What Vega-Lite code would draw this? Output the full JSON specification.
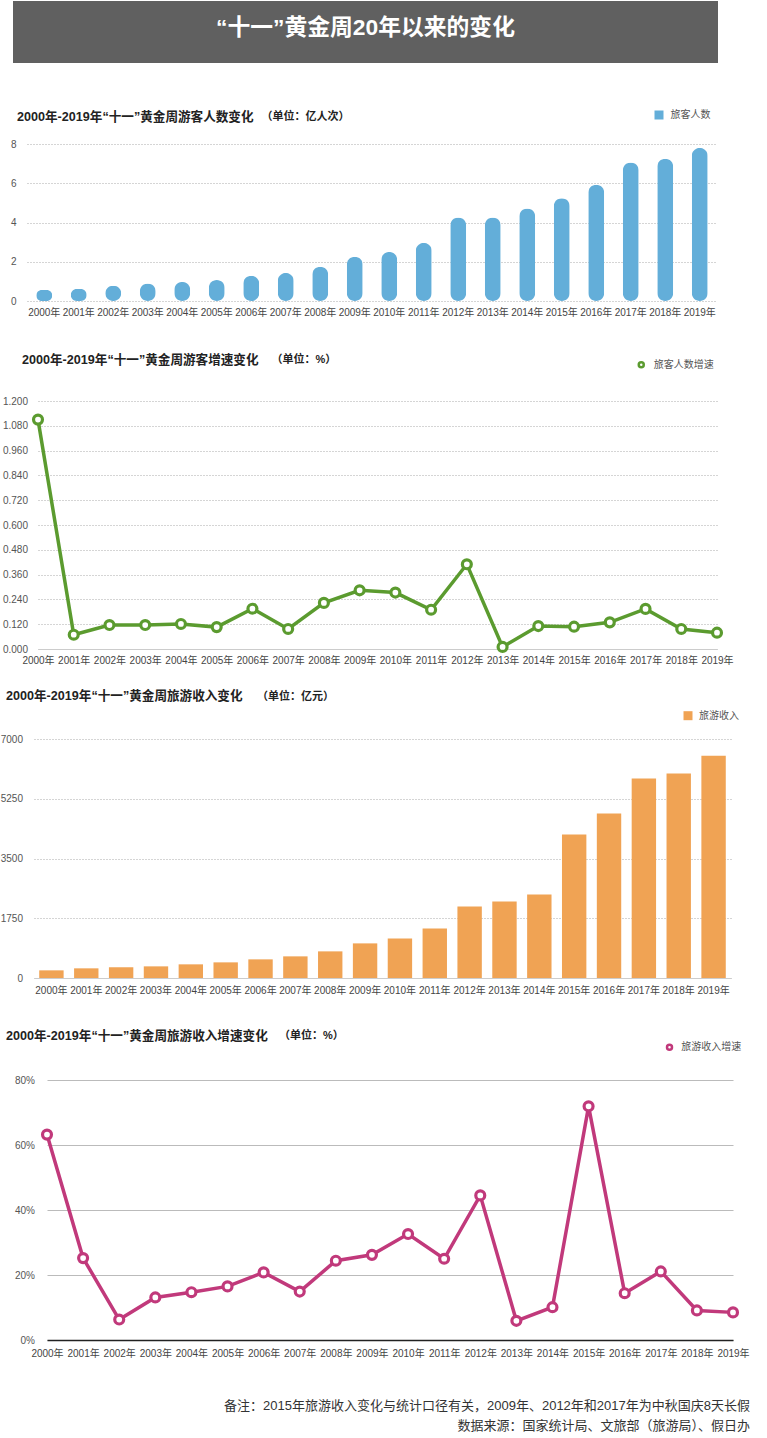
{
  "$schema": "https://vega.github.io/schema/vega-lite/v6.json",
  "background": "white",
  "padding": {"left": 0, "top": 1, "right": 0, "bottom": 0},
  "config": {
    "font": "'Liberation Sans', 'Noto Sans CJK SC', sans-serif",
    "view": {"stroke": null},
    "legend": {"padding": 0, "labelFontSize": 10, "labelColor": "#555", "labelOffset": 6}
  },
  "datasets": {
    "tourists": [
      {"year": "2000年", "value": 0.56}, {"year": "2001年", "value": 0.61}, {"year": "2002年", "value": 0.78},
      {"year": "2003年", "value": 0.89}, {"year": "2004年", "value": 0.97}, {"year": "2005年", "value": 1.07},
      {"year": "2006年", "value": 1.29}, {"year": "2007年", "value": 1.43}, {"year": "2008年", "value": 1.75},
      {"year": "2009年", "value": 2.26}, {"year": "2010年", "value": 2.50}, {"year": "2011年", "value": 2.96},
      {"year": "2012年", "value": 4.26}, {"year": "2013年", "value": 4.26}, {"year": "2014年", "value": 4.71},
      {"year": "2015年", "value": 5.23}, {"year": "2016年", "value": 5.92}, {"year": "2017年", "value": 7.06},
      {"year": "2018年", "value": 7.25}, {"year": "2019年", "value": 7.80}
    ],
    "touristGrowth": [
      {"year": "2000年", "value": 1.110}, {"year": "2001年", "value": 0.069}, {"year": "2002年", "value": 0.116},
      {"year": "2003年", "value": 0.116}, {"year": "2004年", "value": 0.121}, {"year": "2005年", "value": 0.106},
      {"year": "2006年", "value": 0.195}, {"year": "2007年", "value": 0.097}, {"year": "2008年", "value": 0.223},
      {"year": "2009年", "value": 0.284}, {"year": "2010年", "value": 0.273}, {"year": "2011年", "value": 0.190},
      {"year": "2012年", "value": 0.410}, {"year": "2013年", "value": 0.010}, {"year": "2014年", "value": 0.111},
      {"year": "2015年", "value": 0.108}, {"year": "2016年", "value": 0.129}, {"year": "2017年", "value": 0.194},
      {"year": "2018年", "value": 0.097}, {"year": "2019年", "value": 0.079}
    ],
    "revenue": [
      {"year": "2000年", "value": 224}, {"year": "2001年", "value": 283}, {"year": "2002年", "value": 312},
      {"year": "2003年", "value": 341}, {"year": "2004年", "value": 400}, {"year": "2005年", "value": 458},
      {"year": "2006年", "value": 546}, {"year": "2007年", "value": 634}, {"year": "2008年", "value": 780},
      {"year": "2009年", "value": 1014}, {"year": "2010年", "value": 1160}, {"year": "2011年", "value": 1453},
      {"year": "2012年", "value": 2096}, {"year": "2013年", "value": 2243}, {"year": "2014年", "value": 2447},
      {"year": "2015年", "value": 4202}, {"year": "2016年", "value": 4817}, {"year": "2017年", "value": 5840},
      {"year": "2018年", "value": 5987}, {"year": "2019年", "value": 6513}
    ],
    "revenueGrowth": [
      {"year": "2000年", "value": 0.632}, {"year": "2001年", "value": 0.252}, {"year": "2002年", "value": 0.063},
      {"year": "2003年", "value": 0.131}, {"year": "2004年", "value": 0.147}, {"year": "2005年", "value": 0.165},
      {"year": "2006年", "value": 0.208}, {"year": "2007年", "value": 0.149}, {"year": "2008年", "value": 0.244},
      {"year": "2009年", "value": 0.262}, {"year": "2010年", "value": 0.326}, {"year": "2011年", "value": 0.250},
      {"year": "2012年", "value": 0.445}, {"year": "2013年", "value": 0.059}, {"year": "2014年", "value": 0.101},
      {"year": "2015年", "value": 0.719}, {"year": "2016年", "value": 0.144}, {"year": "2017年", "value": 0.211},
      {"year": "2018年", "value": 0.091}, {"year": "2019年", "value": 0.085}
    ]
  },
  "title": {
    "text": ["备注：2015年旅游收入变化与统计口径有关，2009年、2012年和2017年为中秋国庆8天长假", "数据来源：国家统计局、文旅部（旅游局）、假日办"],
    "orient": "bottom", "anchor": "end", "frame": "bounds",
    "fontSize": 13, "fontWeight": "normal", "color": "#333", "lineHeight": 20, "offset": 42, "baseline": "top"
  },
  "spacing": 24,
  "resolve": {"scale": {"color": "independent", "stroke": "independent"}, "legend": {"color": "independent", "stroke": "independent"}},
  "vconcat": [
    {
      "spacing": 46,
      "resolve": {"scale": {"color": "independent", "stroke": "independent"}, "legend": {"color": "independent", "stroke": "independent"}},
      "vconcat": [
        {
          "width": 705, "height": 62,
          "view": {"fill": "#606060", "stroke": null},
          "data": {"values": [{"t": "“十一”黄金周20年以来的变化"}]},
          "mark": {"type": "text", "color": "white", "fontSize": 22.8, "fontWeight": "bold", "align": "center", "baseline": "middle", "dy": -4},
          "encoding": {"text": {"field": "t", "type": "nominal"}}
        },
        {
          "spacing": 36,
          "resolve": {"scale": {"color": "independent", "stroke": "independent"}, "legend": {"color": "independent", "stroke": "independent"}},
          "vconcat": [
            {
              "width": 737, "height": 157,
              "data": {"name": "tourists"},
              "mark": {"type": "bar", "size": 16, "cornerRadius": 8},
              "encoding": {
                "x": {"field": "year", "type": "nominal", "sort": null,
                  "scale": {"type": "band", "range": [14, 704], "paddingInner": 0, "paddingOuter": 0},
                  "axis": {"title": "2000年-2019年“十一”黄金周游客人数变化", "titleX": 3.5, "titleY": -184.3, "titleAlign": "left", "titleBaseline": "middle", "titleAngle": 0, "titleFontSize": 12.6, "titleFontWeight": "bold", "titleColor": "#222",
                    "labelAngle": 0, "labelPadding": 6, "labelFontSize": 10, "labelColor": "#444", "ticks": false, "tickSize": 0, "domain": false, "grid": false, "labelOverlap": false}},
                "y": {"field": "value", "type": "quantitative", "scale": {"domain": [0, 8], "nice": false},
                  "axis": {"title": "（单位：亿人次）", "titleAngle": 0, "titleX": 234, "titleY": -27.3, "titleAlign": "left", "titleBaseline": "middle", "titleFontSize": 11, "titleFontWeight": "bold", "titleColor": "#222",
                    "offset": -14, "values": [0, 2, 4, 6, 8], "ticks": false, "tickSize": 0, "domain": false, "labelPadding": 11, "labelFontSize": 10, "labelColor": "#555",
                    "grid": true, "gridColor": "#aaa", "gridDash": [1, 2], "gridWidth": 1}},
                "color": {"datum": "旅客人数", "type": "nominal", "scale": {"range": ["#63aed9"]},
                  "legend": {"orient": "none", "legendX": 640.5, "legendY": -34.5, "symbolType": "square", "symbolSize": 81, "labelOffset": 6, "title": null}}
              }
            },
            {
              "width": 737, "height": 248,
              "data": {"name": "touristGrowth"},
              "encoding": {
                "x": {"field": "year", "type": "ordinal", "sort": null,
                  "scale": {"type": "point", "range": [25, 704], "padding": 0},
                  "axis": {"title": "2000年-2019年“十一”黄金周游客增速变化", "titleX": 8.5, "titleY": -289.7, "titleAlign": "left", "titleBaseline": "middle", "titleAngle": 0, "titleFontSize": 12.6, "titleFontWeight": "bold", "titleColor": "#222",
                    "labelAngle": 0, "labelPadding": 6, "labelFontSize": 10, "labelColor": "#444", "ticks": false, "tickSize": 0, "domain": true, "domainColor": "#ccc", "domainWidth": 1, "grid": false, "labelOverlap": false}},
                "y": {"field": "value", "type": "quantitative", "scale": {"domain": [0, 1.2], "nice": false},
                  "axis": {"title": "（单位：%）", "titleAngle": 0, "titleX": 233, "titleY": -41.4, "titleAlign": "left", "titleBaseline": "middle", "titleFontSize": 11, "titleFontWeight": "bold", "titleColor": "#222",
                    "offset": -25, "values": [0, 0.12, 0.24, 0.36, 0.48, 0.6, 0.72, 0.84, 0.96, 1.08, 1.2], "format": ".3f", "labelOverlap": false,
                    "ticks": false, "tickSize": 0, "domain": false, "labelPadding": 10.5, "labelFontSize": 10, "labelColor": "#555",
                    "grid": true, "gridColor": "#aaa", "gridDash": [1, 2], "gridWidth": 1}}
              },
              "layer": [
                {"mark": {"type": "line", "color": "#5b9b2f", "strokeWidth": 3.5}},
                {"mark": {"type": "point", "shape": "circle", "filled": true, "fill": "white", "size": 80, "strokeWidth": 3.2, "opacity": 1},
                  "encoding": {"stroke": {"datum": "旅客人数增速", "type": "nominal", "scale": {"range": ["#5b9b2f"]},
                    "legend": {"orient": "none", "legendX": 623.25, "legendY": -41.3, "symbolType": "circle", "symbolSize": 25, "symbolStrokeWidth": 2.5, "symbolFillColor": "white", "labelOffset": 7.5, "title": null}}}}
              ]
            }
          ]
        }
      ]
    },
    {
      "spacing": 34,
      "resolve": {"scale": {"color": "independent", "stroke": "independent"}, "legend": {"color": "independent", "stroke": "independent"}},
      "vconcat": [
        {
          "width": 737, "height": 239,
          "data": {"name": "revenue"},
          "mark": {"type": "bar"},
          "encoding": {
            "x": {"field": "year", "type": "nominal", "sort": null,
              "scale": {"type": "band", "range": [21, 718], "paddingInner": 0.3, "paddingOuter": 0.15},
              "axis": {"title": "2000年-2019年“十一”黄金周旅游收入变化", "titleX": -7.5, "titleY": -282.7, "titleAlign": "left", "titleBaseline": "middle", "titleAngle": 0, "titleFontSize": 12.6, "titleFontWeight": "bold", "titleColor": "#222",
                "labelAngle": 0, "labelPadding": 7, "labelFontSize": 10, "labelColor": "#444", "ticks": false, "tickSize": 0, "domain": true, "domainColor": "#ccc", "domainWidth": 1, "grid": false, "labelOverlap": false}},
            "y": {"field": "value", "type": "quantitative", "scale": {"domain": [0, 7000], "nice": false},
              "axis": {"title": "（单位：亿元）", "titleAngle": 0, "titleX": 222.4, "titleY": -42.6, "titleAlign": "left", "titleBaseline": "middle", "titleFontSize": 11, "titleFontWeight": "bold", "titleColor": "#222",
                "offset": -21, "values": [0, 1750, 3500, 5250, 7000], "format": "d",
                "ticks": false, "tickSize": 0, "domain": false, "labelPadding": 11.5, "labelFontSize": 10, "labelColor": "#555",
                "grid": true, "gridColor": "#aaa", "gridDash": [1, 2], "gridWidth": 1}},
            "color": {"datum": "旅游收入", "type": "nominal", "scale": {"range": ["#f0a354"]},
              "legend": {"orient": "none", "legendX": 669.5, "legendY": -28.8, "symbolType": "square", "symbolSize": 81, "labelOffset": 5.6, "title": null}}
          }
        },
        {
          "width": 737, "height": 260,
          "data": {"name": "revenueGrowth"},
          "encoding": {
            "x": {"field": "year", "type": "ordinal", "sort": null,
              "scale": {"type": "point", "range": [34, 720], "padding": 0},
              "axis": {"title": "2000年-2019年“十一”黄金周旅游收入增速变化", "titleX": -7.5, "titleY": -304.8, "titleAlign": "left", "titleBaseline": "middle", "titleAngle": 0, "titleFontSize": 12.6, "titleFontWeight": "bold", "titleColor": "#222",
                "labelAngle": 0, "labelPadding": 8, "labelFontSize": 10, "labelColor": "#444", "ticks": false, "tickSize": 0, "domain": true, "domainColor": "#222", "domainWidth": 1.5, "grid": false, "labelOverlap": false}},
            "y": {"field": "value", "type": "quantitative", "scale": {"domain": [0, 0.8], "nice": false},
              "axis": {"title": "（单位：%）", "titleAngle": 0, "titleX": 231.4, "titleY": -44.3, "titleAlign": "left", "titleBaseline": "middle", "titleFontSize": 11, "titleFontWeight": "bold", "titleColor": "#222",
                "offset": -34, "values": [0, 0.2, 0.4, 0.6, 0.8], "format": ".0%",
                "ticks": false, "tickSize": 0, "domain": false, "labelPadding": 12.5, "labelFontSize": 10, "labelColor": "#555",
                "grid": true, "gridColor": "#bbb", "gridWidth": 1}}
          },
          "layer": [
            {"mark": {"type": "line", "color": "#c1397b", "strokeWidth": 3.5}},
            {"mark": {"type": "point", "shape": "circle", "filled": true, "fill": "white", "size": 80, "strokeWidth": 3.2, "opacity": 1},
              "encoding": {"stroke": {"datum": "旅游收入增速", "type": "nominal", "scale": {"range": ["#c1397b"]},
                "legend": {"orient": "none", "legendX": 651.5, "legendY": -37.7, "symbolType": "circle", "symbolSize": 25, "symbolStrokeWidth": 2.5, "symbolFillColor": "white", "labelOffset": 6.7, "title": null}}}}
          ]
        }
      ]
    }
  ]
}
